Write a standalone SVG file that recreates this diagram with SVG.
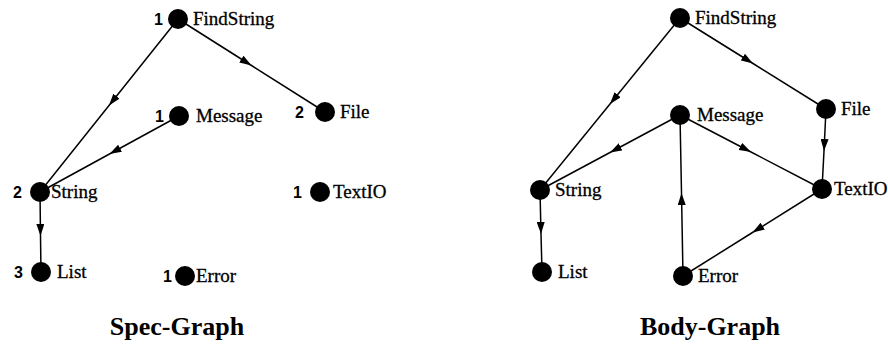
<svg xmlns="http://www.w3.org/2000/svg" width="888" height="349" viewBox="0 0 888 349">
  <defs>
    <marker id="arrow" viewBox="0 0 12 8" refX="12" refY="4" markerWidth="12" markerHeight="8" markerUnits="userSpaceOnUse" orient="auto">
      <path d="M0,0 L12,4 L0,8 Z" fill="#000"/>
    </marker>
    <style>
      .edge { fill: none; stroke: #000; stroke-width: 1.5; marker-mid: url(#arrow); }
      .dot { fill: #000; }
      .lbl { font-family: "Liberation Serif", "Times New Roman", serif; font-size: 19px; fill: #000; stroke: #000; stroke-width: 0.3; }
      .num { font-family: "Liberation Sans", Arial, sans-serif; font-size: 16px; font-weight: bold; fill: #000; text-anchor: end; }
      .title { font-family: "Liberation Serif", "Times New Roman", serif; font-size: 26px; font-weight: bold; fill: #000; text-anchor: middle; }
    </style>
  </defs>
  <rect width="888" height="349" fill="#fff"/>

  <!-- Spec-Graph edges (each path has a middle vertex carrying the arrowhead) -->
  <g id="spec-edges">
    <path class="edge" d="M178,19 L109,105.5 L40,192"/>
    <path class="edge" d="M178,19 L251.5,65.5 L325,112"/>
    <path class="edge" d="M179,116 L109.5,154 L40,192"/>
    <path class="edge" d="M40,192 L40.5,236 L41,272"/>
  </g>

  <!-- Spec-Graph nodes -->
  <g id="spec-findstring"><circle class="dot" cx="178" cy="19" r="10"/><text class="num" x="163" y="25">1</text><text class="lbl" x="193" y="25">FindString</text></g>
  <g id="spec-message"><circle class="dot" cx="179" cy="116" r="10"/><text class="num" x="164" y="122">1</text><text class="lbl" x="196" y="122">Message</text></g>
  <g id="spec-file"><circle class="dot" cx="325" cy="112" r="10"/><text class="num" x="304" y="118">2</text><text class="lbl" x="340" y="118">File</text></g>
  <g id="spec-string"><circle class="dot" cx="40" cy="192" r="10"/><text class="num" x="22" y="198">2</text><text class="lbl" x="51" y="198">String</text></g>
  <g id="spec-textio"><circle class="dot" cx="320" cy="192" r="10"/><text class="num" x="302" y="198">1</text><text class="lbl" x="333" y="198">TextIO</text></g>
  <g id="spec-list"><circle class="dot" cx="41" cy="272" r="10"/><text class="num" x="23" y="278">3</text><text class="lbl" x="57" y="278">List</text></g>
  <g id="spec-error"><circle class="dot" cx="185" cy="276" r="10"/><text class="num" x="172" y="282">1</text><text class="lbl" x="196" y="282">Error</text></g>
  <text class="title" x="177" y="335">Spec-Graph</text>

  <!-- Body-Graph edges -->
  <g id="body-edges">
    <path class="edge" d="M680,18 L610,104 L540,190"/>
    <path class="edge" d="M680,18 L753,63.5 L826,109"/>
    <path class="edge" d="M680,115 L610,152.5 L540,190"/>
    <path class="edge" d="M680,115 L751,152 L822,189"/>
    <path class="edge" d="M826,109 L824,151 L822,189"/>
    <path class="edge" d="M540,190 L541,234 L542,272"/>
    <path class="edge" d="M683,276 L681.5,193 L680,115"/>
    <path class="edge" d="M822,189 L752.5,232.5 L683,276"/>
  </g>

  <!-- Body-Graph nodes -->
  <g id="body-findstring"><circle class="dot" cx="680" cy="18" r="10"/><text class="lbl" x="695" y="24">FindString</text></g>
  <g id="body-message"><circle class="dot" cx="680" cy="115" r="10"/><text class="lbl" x="697" y="121">Message</text></g>
  <g id="body-file"><circle class="dot" cx="826" cy="109" r="10"/><text class="lbl" x="841" y="115">File</text></g>
  <g id="body-string"><circle class="dot" cx="540" cy="190" r="10"/><text class="lbl" x="555" y="196">String</text></g>
  <g id="body-textio"><circle class="dot" cx="822" cy="189" r="10"/><text class="lbl" x="834" y="195">TextIO</text></g>
  <g id="body-list"><circle class="dot" cx="542" cy="272" r="10"/><text class="lbl" x="558" y="278">List</text></g>
  <g id="body-error"><circle class="dot" cx="683" cy="276" r="10"/><text class="lbl" x="698" y="282">Error</text></g>
  <text class="title" x="710" y="335">Body-Graph</text>
</svg>
